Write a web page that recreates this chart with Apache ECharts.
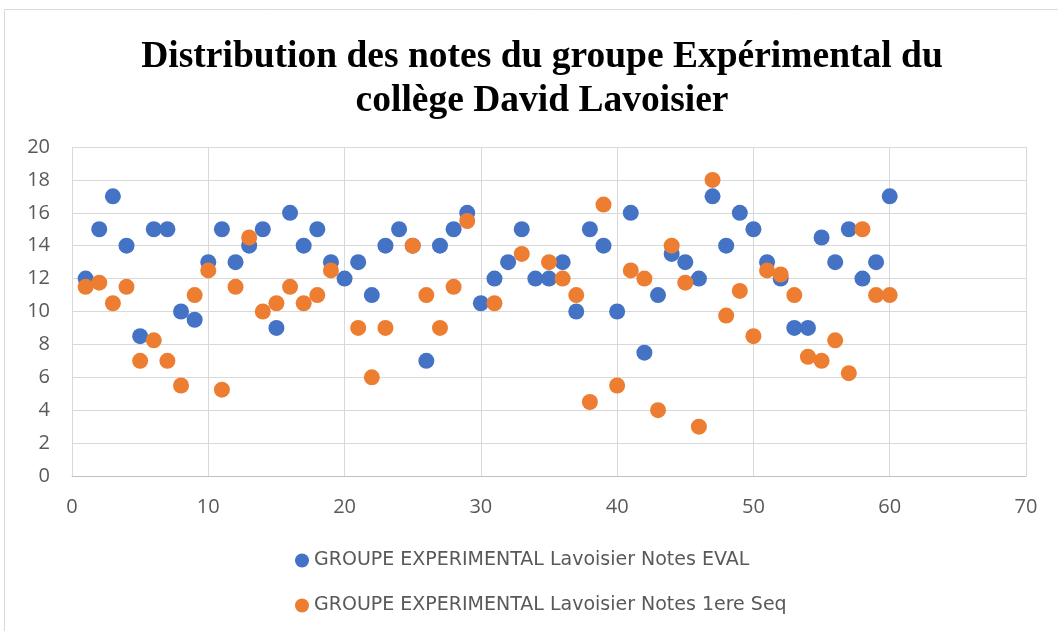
<!DOCTYPE html>
<html>
<head>
<meta charset="utf-8">
<script src="https://cdn.jsdelivr.net/npm/echarts@6/dist/echarts.min.js"></script>
<style>
  html, body { margin: 0; padding: 0; background: #fff; }
  #main { width: 1058px; height: 631px; }
</style>
</head>
<body>
<div id="main"></div>
<script type="text/javascript">
    // numéros d'élèves 1..60
    var eleves = [];
    for (var i = 1; i <= 60; i++) eleves.push(i);

    // notes EVAL (bleu)
    var notesEval = [12, 15, 17, 14, 8.5, 15, 15, 10, 9.5, 13,
                     15, 13, 14, 15, 9, 16, 14, 15, 13, 12,
                     13, 11, 14, 15, 14, 7, 14, 15, 16, 10.5,
                     12, 13, 15, 12, 12, 13, 10, 15, 14, 10,
                     16, 7.5, 11, 13.5, 13, 12, 17, 14, 16, 15,
                     13, 12, 9, 9, 14.5, 13, 15, 12, 13, 17];

    // notes 1ere sequence (orange), null = absent
    var notesSeq1 = [11.5, 11.75, 10.5, 11.5, 7, 8.25, 7, 5.5, 11, 12.5,
                     5.25, 11.5, 14.5, 10, 10.5, 11.5, 10.5, 11, 12.5, null,
                     9, 6, 9, null, 14, 11, 9, 11.5, 15.5, null,
                     10.5, null, 13.5, null, 13, 12, 11, 4.5, 16.5, 5.5,
                     12.5, 12, 4, 14, 11.75, 3, 18, 9.75, 11.25, 8.5,
                     12.5, 12.25, 11, 7.25, 7, 8.25, 6.25, 15, 11, 11];

    var xTicks = { min: 0, max: 70, interval: 10 };
    var yTicks = { min: 0, max: 20, interval: 2 };

    function paires(vals) {
        var out = [];
        for (var k = 0; k < vals.length; k++) {
            if (vals[k] !== null) out.push([eleves[k], vals[k]]);
        }
        return out;
    }

    var myChart = echarts.init(document.getElementById('main'));

    var option = {
        animation: false,
        backgroundColor: '#fff',
        title: {
            text: 'Distribution des notes du groupe Expérimental du\ncollège David Lavoisier',
            left: 537,
            textAlign: 'center',
            top: 30,
            textStyle: {
                fontFamily: 'Liberation Serif',
                fontWeight: 'bold',
                fontSize: 37.5,
                lineHeight: 44,
                color: '#000'
            }
        },
        graphic: [{
            type: 'rect',
            shape: { x: 4.5, y: 9.5, width: 1070, height: 640 },
            style: { fill: 'none', stroke: '#d9d9d9', lineWidth: 1 },
            silent: true
        }],
        legend: {
            orient: 'vertical',
            left: 290,
            top: 546,
            itemGap: 26,
            itemWidth: 14,
            itemHeight: 14,
            icon: 'circle',
            textStyle: { fontFamily: 'DejaVu Sans', fontSize: 19, color: '#595959' },
            data: ['GROUPE EXPERIMENTAL Lavoisier Notes EVAL', 'GROUPE EXPERIMENTAL Lavoisier Notes 1ere Seq']
        },
        grid: { left: 72, right: 32, top: 147, bottom: 155 },
        xAxis: {
            type: 'value',
            min: xTicks.min, max: xTicks.max, interval: xTicks.interval,
            axisLine: { show: true, lineStyle: { color: '#bfbfbf' } },
            axisTick: { show: false },
            axisLabel: { color: '#595959', fontFamily: 'Open Sans', fontSize: 20, margin: 21 },
            splitLine: { show: true, lineStyle: { color: '#d9d9d9' } }
        },
        yAxis: {
            type: 'value',
            min: yTicks.min, max: yTicks.max, interval: yTicks.interval,
            axisLine: { show: false },
            axisTick: { show: false },
            axisLabel: { color: '#595959', fontFamily: 'Open Sans', fontSize: 20, margin: 22 },
            splitLine: { show: true, lineStyle: { color: '#d9d9d9' } }
        },
        series: [
            {
                name: 'GROUPE EXPERIMENTAL Lavoisier Notes EVAL',
                type: 'scatter',
                symbolSize: 16,
                itemStyle: { color: '#4472C4', opacity: 1 },
                data: paires(notesEval)
            },
            {
                name: 'GROUPE EXPERIMENTAL Lavoisier Notes 1ere Seq',
                type: 'scatter',
                symbolSize: 16,
                itemStyle: { color: '#ED7D31', opacity: 1 },
                data: paires(notesSeq1)
            }
        ]
    };
    myChart.setOption(option);
</script>
</body>
</html>
